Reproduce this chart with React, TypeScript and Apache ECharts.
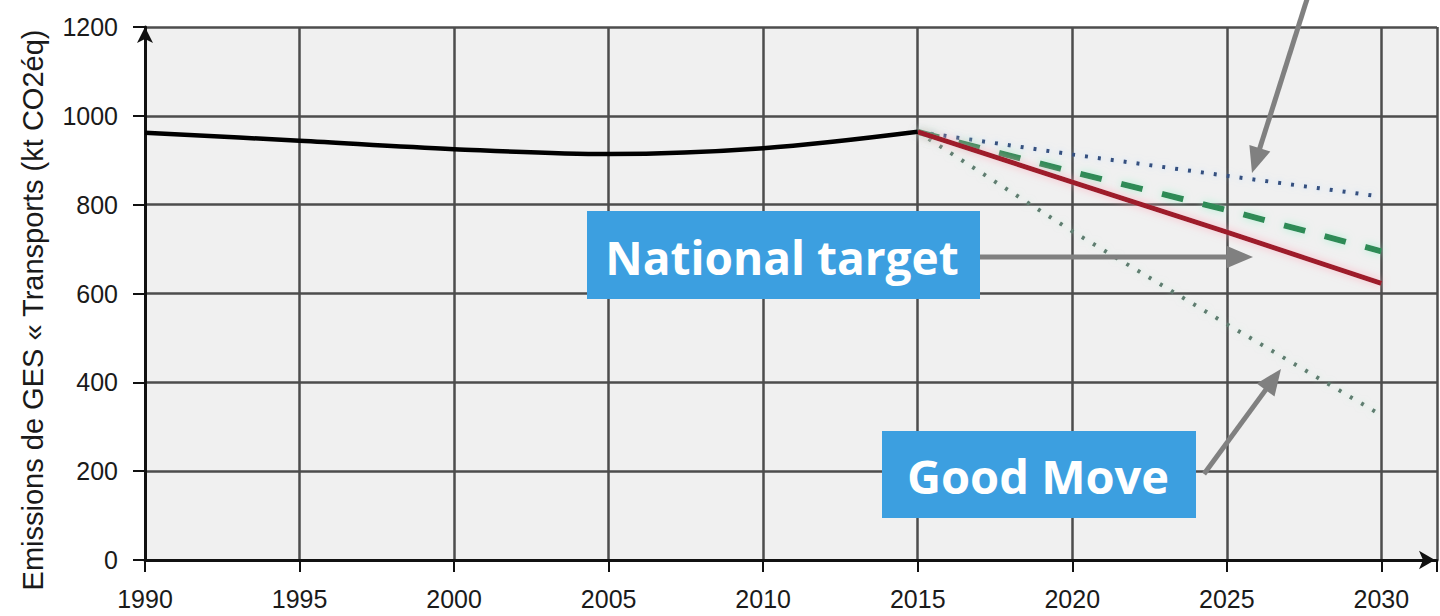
import React, { useEffect, useRef } from "react";
import * as echarts from "echarts";

// ---- data ----
const histYears = [1990, 1995, 2000, 2005, 2010, 2015];
const histValues = [962, 944, 925, 914, 927, 964];
const projYears = [2015, 2020, 2025, 2030];
const nationalTarget = [964, 851, 738, 623];
const trendScenario = [964, 874, 788, 695];
const upperScenario = [964, 913, 865, 818];
const goodMove = [964, 740, 531, 326];
const yTicks = [0, 200, 400, 600, 800, 1000, 1200];
const xTickStep = 5;
const yAxisTitle = "Emissions de GES « Transports (kt CO2éq)";
const labelNational = "National target";
const labelGoodMove = "Good Move";

const pairs = (xs: number[], ys: number[]) => xs.map((x, i) => [x, ys[i]]);

const ARROW = "#808080";
const BOX = "#3C9FE0";

function arrow(x1: number, y1: number, x2: number, y2: number) {
  const dx = x2 - x1;
  const dy = y2 - y1;
  const len = Math.sqrt(dx * dx + dy * dy);
  const ux = dx / len;
  const uy = dy / len;
  const hl = 26;
  const hw = 11;
  const bx = x2 - ux * hl;
  const by = y2 - uy * hl;
  return [
    {
      type: "line",
      shape: { x1, y1, x2: bx + ux * 2, y2: by + uy * 2 },
      style: { stroke: ARROW, lineWidth: 5 },
      z: 100,
    },
    {
      type: "polygon",
      shape: {
        points: [
          [x2, y2],
          [bx - uy * hw, by + ux * hw],
          [bx + uy * hw, by - ux * hw],
        ],
      },
      style: { fill: ARROW },
      z: 100,
    },
  ];
}

export default function App() {
  const ref = useRef<HTMLDivElement>(null);
  useEffect(() => {
    if (!ref.current) return;
    const chart = echarts.init(ref.current, null, { renderer: "svg" });
    const labelFont = "'Liberation Sans', Arial, sans-serif";
    chart.setOption({
      animation: false,
      backgroundColor: "#ffffff",
      grid: {
        left: 145,
        right: 0,
        top: 27,
        bottom: 56,
        show: true,
        backgroundColor: "#f0f0f0",
        borderWidth: 0,
      },
      xAxis: {
        type: "value",
        min: 1990,
        max: 2031.8,
        interval: xTickStep,
        axisLine: {
          show: true,
          lineStyle: { color: "#111", width: 3 },
          symbol: ["none", "arrow"],
          symbolSize: [14, 16],
          symbolOffset: [0, -2],
        },
        axisTick: { show: true, length: 12, lineStyle: { color: "#111", width: 2 } },
        axisLabel: {
          margin: 26,
          fontSize: 25,
          color: "#1a1a1a",
          fontFamily: labelFont,
          formatter: (v: number) => (v % xTickStep === 0 ? String(v) : ""),
        },
        splitLine: { show: true, lineStyle: { color: "#4d4d4d", width: 2.5 } },
      },
      yAxis: {
        type: "value",
        min: yTicks[0],
        max: yTicks[yTicks.length - 1],
        interval: yTicks[1] - yTicks[0],
        axisLine: {
          show: true,
          lineStyle: { color: "#111", width: 3 },
          symbol: ["none", "arrow"],
          symbolSize: [12, 16],
          symbolOffset: [0, 0],
        },
        axisTick: { show: true, length: 12, lineStyle: { color: "#111", width: 2 } },
        axisLabel: {
          margin: 27,
          fontSize: 25,
          color: "#1a1a1a",
          fontFamily: labelFont,
          formatter: (v: number) => String(v),
        },
        splitLine: { show: true, lineStyle: { color: "#4d4d4d", width: 2.5 } },
      },
      series: [
        {
          type: "line",
          name: "Upper scenario",
          data: pairs(projYears, upperScenario),
          showSymbol: false,
          lineStyle: {
            color: "#34507f",
            width: 4,
            type: [3, 10],
            shadowColor: "rgba(150,200,255,0.6)",
            shadowBlur: 6,
          },
          z: 3,
        },
        {
          type: "line",
          name: "Good Move",
          data: pairs(projYears, goodMove),
          showSymbol: false,
          lineStyle: {
            color: "#5f7d70",
            width: 4,
            type: [3, 10],
            shadowColor: "rgba(170,230,200,0.6)",
            shadowBlur: 6,
          },
          z: 3,
        },
        {
          type: "line",
          name: "Trend",
          data: pairs(projYears, trendScenario),
          showSymbol: false,
          lineStyle: {
            color: "#2e8b57",
            width: 6,
            type: [22, 20],
            shadowColor: "rgba(150,240,200,0.7)",
            shadowBlur: 8,
          },
          z: 4,
        },
        {
          type: "line",
          name: "National target",
          data: pairs(projYears, nationalTarget),
          showSymbol: false,
          lineStyle: {
            color: "#9e1a2c",
            width: 5,
            shadowColor: "rgba(255,160,180,0.7)",
            shadowBlur: 8,
          },
          z: 5,
        },
        {
          type: "line",
          name: "Historique",
          data: pairs(histYears, histValues),
          showSymbol: false,
          smooth: 0.35,
          lineStyle: { color: "#000", width: 4.5 },
          z: 6,
        },
      ],
      graphic: [
        {
          type: "text",
          x: 33,
          y: 310,
          rotation: Math.PI / 2,
          style: {
            text: yAxisTitle,
            fontSize: 29,
            fontFamily: labelFont,
            fill: "#1a1a1a",
            align: "center",
            verticalAlign: "middle",
          },
        },
        {
          type: "rect",
          shape: { x: 587, y: 211, width: 393, height: 88 },
          style: { fill: BOX },
          z: 90,
        },
        {
          type: "text",
          x: 782,
          y: 257,
          style: {
            text: labelNational,
            fontSize: 46,
            fontWeight: "bold",
            fontFamily: "'Open Sans', 'Noto Sans', sans-serif",
            fill: "#ffffff",
            align: "center",
            verticalAlign: "middle",
          },
          z: 91,
        },
        {
          type: "rect",
          shape: { x: 882, y: 431, width: 314, height: 87 },
          style: { fill: BOX },
          z: 90,
        },
        {
          type: "text",
          x: 1038,
          y: 476,
          style: {
            text: labelGoodMove,
            fontSize: 47,
            fontWeight: "bold",
            fontFamily: "'Open Sans', 'Noto Sans', sans-serif",
            fill: "#ffffff",
            align: "center",
            verticalAlign: "middle",
          },
          z: 91,
        },
        ...arrow(980, 257, 1253, 257),
        ...arrow(1204, 474, 1281, 369),
        ...arrow(1308, -4, 1252, 173),
      ],
    });
    return () => chart.dispose();
  }, []);
  return (
    <div
      ref={ref}
      style={{ position: "fixed", left: 0, top: 0, width: 1440, height: 616 }}
    />
  );
}
